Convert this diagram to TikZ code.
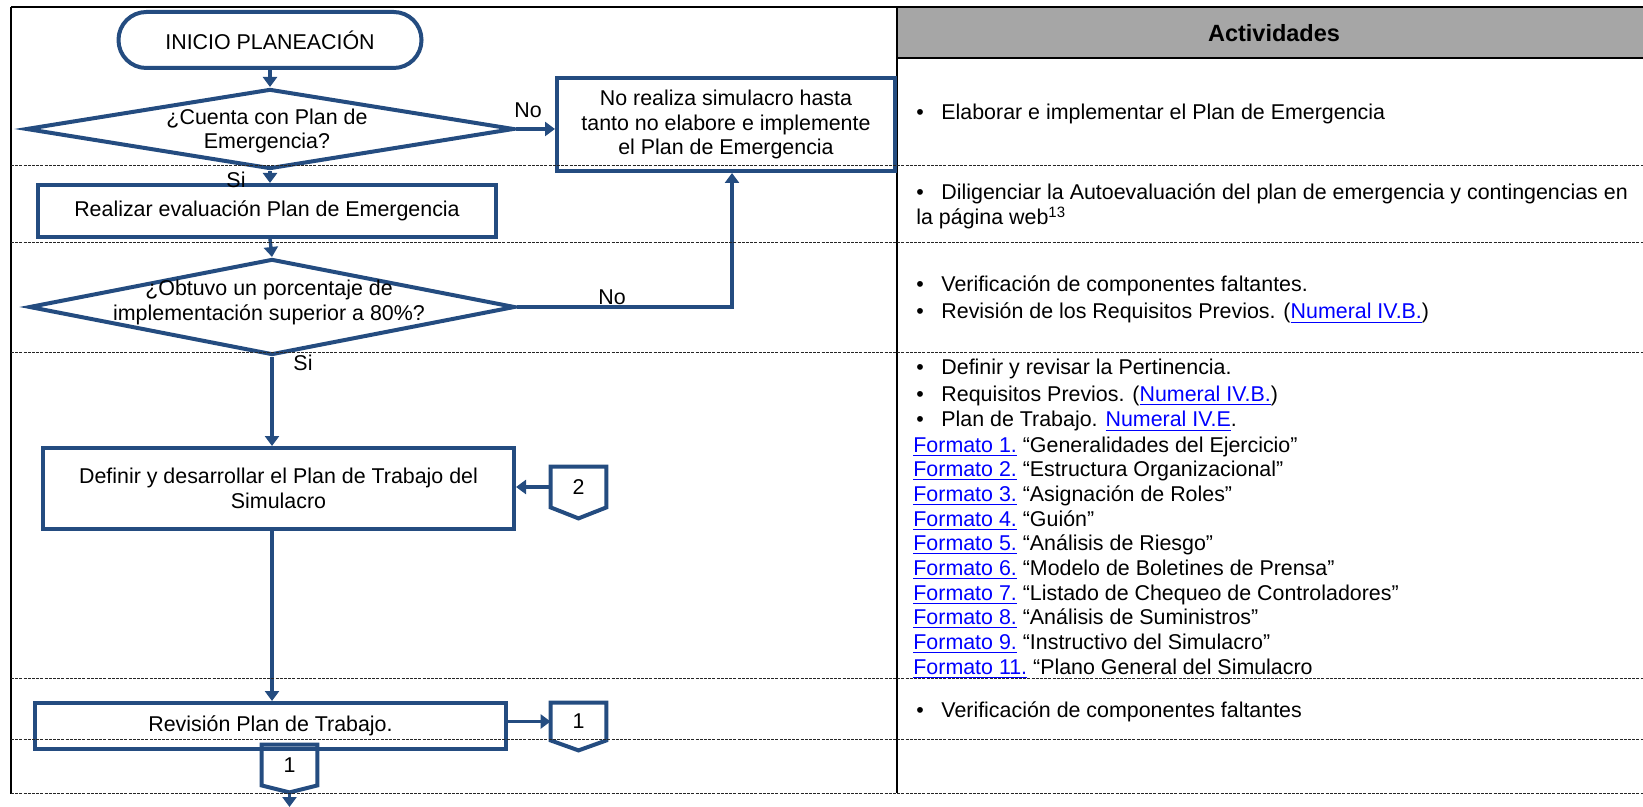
\documentclass[tikz,border=0pt]{standalone}
\usepackage{fontspec}
\setmainfont{Liberation Sans}
\usetikzlibrary{arrows.meta,calc,shapes.geometric}
\definecolor{flow}{RGB}{36,76,128}
\definecolor{hdrgray}{RGB}{166,166,166}
\definecolor{lnkc}{RGB}{0,0,255}
\newcommand\lnk[1]{\textcolor{lnkc}{\underline{#1}}}
\newcommand\bul{\makebox[12.5pt][l]{\textbullet}}
\begin{document}
\begin{tikzpicture}[x=0.5pt,y=-0.5pt,
  ft/.style={font=\fontsize{10.7pt}{12.3pt}\selectfont},
  shp/.style={draw=flow, line width=2pt, fill=white, inner sep=0pt, ft, align=center},
  procbox/.style={shp, rectangle},
  decis/.style={shp, diamond},
  conn/.style={draw=flow, line width=2pt, line join=miter},
  connlbl/.style={inner sep=0pt, ft, minimum width=27.5pt},
  flowline/.style={draw=flow, line width=1.7pt, -{Triangle[length=5pt,width=7pt]}},
  lbl/.style={inner sep=0pt, ft},
  act/.style={anchor=base west, inner sep=0pt, font=\fontsize{10.7pt}{12.3pt}\selectfont},
  rowsep/.style={draw=black!85, line width=0.5pt, dash pattern=on 1.5pt off 0.6pt},
  rule/.style={draw=black, line width=1pt}
]
\useasboundingbox (0,0) rectangle (1643,807);

% table frame
\fill[hdrgray] (897,7) rectangle (1643,58);
\draw[rule] (11,7) -- (1643,7);
\draw[rule] (11,7) -- (11,794);
\draw[rule] (897,7) -- (897,793);
\draw[rule] (897,58) -- (1643,58);
\node[font=\bfseries\fontsize{11.75pt}{14pt}\selectfont, inner sep=0pt] (hd) at (1274,33) {Actividades};

% flow shapes
\node[procbox, rounded corners=13.9pt, minimum width=151.5pt, minimum height=28pt] (start) at (270,40) {INICIO PLANEACIÓN};
\node[decis, minimum width=244pt, minimum height=40pt] (d1) at (270,129) {};
\node[lbl, align=center] (d1t) at (267,131) {¿Cuenta con Plan de\\Emergencia?};
\node[procbox, minimum width=169pt, minimum height=46.5pt] (no) at (726,124.5) {No realiza simulacro hasta\\tanto no elabore e implemente\\el Plan de Emergencia};
\node[procbox, minimum width=229pt, minimum height=26pt] (eval) at (267,211) {Realizar evaluación Plan de Emergencia};
\node[decis, minimum width=243pt, minimum height=48pt] (d2) at (272,307) {};
\node[lbl, align=center] (d2t) at (269,302.5) {¿Obtuvo un porcentaje de\\implementación superior a 80\%?};
\node[procbox, minimum width=235.5pt, minimum height=40.5pt] (def) at (278.5,488.5) {Definir y desarrollar el Plan de Trabajo del\\Simulacro};
\node[procbox, minimum width=235.5pt, minimum height=23pt] (rev) at (270.5,726) {Revisión Plan de Trabajo.};

% off-page connectors
\node[connlbl, minimum height=20pt] (c2) at (578.5,487) {2};
\draw[conn] (c2.north west) -- (c2.north east) -- (c2.south east) -- ($(c2.south)+(0,11)$) -- (c2.south west) -- cycle;
\node[connlbl, minimum height=18.5pt] (c1a) at (578.5,721.5) {1};
\draw[conn] (c1a.north west) -- (c1a.north east) -- (c1a.south east) -- ($(c1a.south)+(0,10)$) -- (c1a.south west) -- cycle;
\node[connlbl, minimum height=20pt] (c1b) at (289.5,765) {1};
\draw[conn] (c1b.north west) -- (c1b.north east) -- (c1b.south east) -- ($(c1b.south)+(0,7)$) -- (c1b.south west) -- cycle;
\coordinate (endb) at (289.5,807);

% connectors
\draw[flowline] (start.south) -- (d1.north);
\draw[flowline] (d1.east) -- (d1.east -| no.west);
\draw[flowline] (d1.south) -- (d1.south |- eval.north);
\draw[flowline] (d1.south |- eval.south) -- (d2.north);
\draw[flowline] (d2.east) -- (d2.east -| {$(no.south)+(6,0)$}) -- ($(no.south)+(6,0)$);
\draw[flowline] (d2.south) -- (d2.south |- def.north);
\draw[flowline] (c2.west) -- (c2.west -| def.east);
\draw[flowline] (def.south -| d2.south) -- (rev.north -| d2.south);
\draw[flowline] (c1a.west -| rev.east) -- (c1a.west);
\draw[flowline] ($(c1b.south)+(0,7)$) -- (endb);

% branch labels
\node[lbl] (no1) at (528,110) {No};
\node[lbl] (si1) at (236,180) {Si};
\node[lbl] (no2) at (612,297) {No};
\node[lbl] (si2) at (303,363) {Si};

% activities text
\node[act] (a1) at (916,120) {\bul Elaborar e implementar el Plan de Emergencia};
\node[act] (a2) at (916,200) {\bul Diligenciar la Autoevaluación del plan de emergencia y contingencias en};
\node[act] (a2b) at (916,225) {la página web\textsuperscript{13}};
\node[act] (a3) at (916,292) {\bul Verificación de componentes faltantes.};
\node[act] (a3b) at (916,319) {\bul Revisión de los Requisitos Previos. (\lnk{Numeral IV.B.})};
\node[act] (a4) at (916,375) {\bul Definir y revisar la Pertinencia.};
\node[act] (a4b) at (916,401) {\bul Requisitos Previos. (\lnk{Numeral IV.B.})};
\node[act] (a4c) at (916,427) {\bul Plan de Trabajo. \lnk{Numeral IV.E}.};
\node[act] (f1) at (913,452) {\lnk{Formato 1.} “Generalidades del Ejercicio”};
\node[act] (f2) at (913,476.7) {\lnk{Formato 2.} “Estructura Organizacional”};
\node[act] (f3) at (913,501.3) {\lnk{Formato 3.} “Asignación de Roles”};
\node[act] (f4) at (913,526) {\lnk{Formato 4.} “Guión”};
\node[act] (f5) at (913,550.7) {\lnk{Formato 5.} “Análisis de Riesgo”};
\node[act] (f6) at (913,575.3) {\lnk{Formato 6.} “Modelo de Boletines de Prensa”};
\node[act] (f7) at (913,600) {\lnk{Formato 7.} “Listado de Chequeo de Controladores”};
\node[act] (f8) at (913,624.7) {\lnk{Formato 8.} “Análisis de Suministros”};
\node[act] (f9) at (913,649.3) {\lnk{Formato 9.} “Instructivo del Simulacro”};
\node[act] (f11) at (913,674) {\lnk{Formato 11.} “Plano General del Simulacro};
\node[act] (a5) at (916,717) {\bul Verificación de componentes faltantes};

% row separators
\foreach \yy in {166,243,353,678,739,793} {
  \draw[rowsep] (11,\yy) -- (1643,\yy);
}
\end{tikzpicture}
\end{document}
